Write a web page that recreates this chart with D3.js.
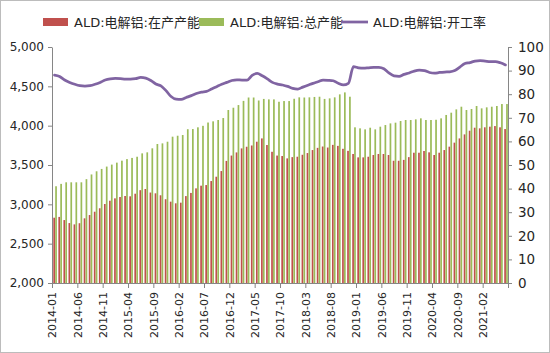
<!DOCTYPE html>
<html>
<head>
<meta charset="utf-8">
<script src="https://cdn.jsdelivr.net/npm/d3@7"></script>
<style>
  body { margin: 0; background: #fff; }
  svg text { font-family: "DejaVu Sans", "Noto Sans CJK SC", sans-serif; fill: #262626; }
</style>
</head>
<body>
<div class="chart"></div>
<script>
// month categories 2014-01 .. 2021-06
var fmtM = d3.utcFormat("%Y-%m");
var months = d3.utcMonth.range(new Date(Date.UTC(2014, 0, 1)), new Date(Date.UTC(2021, 6, 1))).map(fmtM);

// ALD:电解铝:在产产能 (left axis)
var production = [
  2830, 2840, 2800, 2762, 2745, 2760, 2822, 2864, 2906, 2950, 3004, 3046, 3076, 3093, 3106, 3102, 3135, 3180,
  3195, 3150, 3140, 3115, 3065, 3034, 3013, 3021, 3105, 3145, 3203, 3237, 3245, 3296, 3351, 3423, 3552, 3620,
  3660, 3711, 3732, 3748, 3796, 3838, 3754, 3668, 3620, 3614, 3584, 3600, 3605, 3630, 3652, 3690, 3718, 3735,
  3722, 3756, 3743, 3706, 3680, 3640, 3597, 3597, 3605, 3627, 3640, 3640, 3627, 3554, 3554, 3565, 3600,
  3656, 3656, 3678, 3661, 3627, 3656, 3690, 3733, 3784, 3838, 3889, 3936, 3974, 3966, 3979, 3987, 3995, 3979, 3957
];
// ALD:电解铝:总产能 (left axis)
var capacity = [
  3230, 3260, 3280, 3280, 3280, 3280, 3320, 3380, 3420, 3450, 3480, 3505, 3530, 3555, 3575, 3590, 3605, 3648,
  3661, 3712, 3767, 3775, 3796, 3860, 3872, 3881, 3955, 3957, 3979, 3998, 4040, 4055, 4072, 4097, 4199, 4228,
  4262, 4315, 4358, 4358, 4320, 4340, 4334, 4334, 4304, 4313, 4313, 4342, 4360, 4358, 4360, 4365, 4368, 4340,
  4347, 4360, 4398, 4423, 4368,
  3979, 3966, 3953, 3974, 3953, 3987, 4008, 4029, 4038, 4059, 4072, 4072,
  4080, 4093, 4072, 4072, 4075, 4093, 4136, 4165, 4207, 4241, 4199, 4212, 4250, 4220, 4233, 4241, 4250, 4275, 4275
];
// ALD:电解铝:开工率 (right axis, %)
var rate = [
  88.1, 87.5, 86.0, 85.0, 84.2, 83.6, 83.4, 83.6, 84.2, 85.0, 86.0, 86.5, 86.7, 86.6, 86.4, 86.4, 86.6, 87.1,
  86.8, 85.8, 84.3, 83.5, 81.5, 79.0, 77.9, 77.8, 78.6, 79.4, 80.3, 80.9, 81.2, 82.2, 83.2, 84.2, 85.0, 85.8,
  86.1, 86.0, 86.0, 88.0, 88.8, 87.8, 86.5, 85.0, 84.3, 83.9, 83.3, 82.5, 82.2, 83.0, 83.8, 84.6, 85.3, 86.0,
  85.9, 85.7, 84.6, 83.9, 84.6, 91.7, 91.2, 91.0, 91.2, 91.4, 91.4, 90.8, 89.0, 87.8, 87.6, 88.4, 89.0,
  89.8, 90.2, 90.0, 89.2, 88.9, 89.2, 89.4, 89.5, 90.0, 91.5, 93.0, 93.4, 94.0, 94.2, 94.0, 93.8, 93.8, 93.3, 92.4
];

var leftTicks = [2000, 2500, 3000, 3500, 4000, 4500, 5000];
var rightTicks = [0, 10, 20, 30, 40, 50, 60, 70, 80, 90, 100];
var legendNames = ["ALD:电解铝:在产产能", "ALD:电解铝:总产能", "ALD:电解铝:开工率"];

var W = 550, H = 353;
var margin = {left: 52, right: 42, top: 47, bottom: 70};
var x0 = margin.left, x1 = W - margin.right, y0 = H - margin.bottom, y1 = margin.top;

var red = "#c0504d", green = "#9bbb59", purple = "#8064a2", axisCol = "#868686";

var svg = d3.select("div.chart").append("svg")
  .attr("width", W).attr("height", H);

svg.append("rect")
  .attr("x", 0.5).attr("y", 0.5).attr("width", W - 1).attr("height", H - 1)
  .attr("fill", "#fff").attr("stroke", "#bcbcbc");

var x = d3.scaleBand().domain(months).range([x0, x1]);
var xs = d3.scaleBand().domain(["prod", "cap"]).range([1.3, 4.9]).paddingInner(0.1);
var xi = d3.scaleLinear().domain([0, months.length]).range([x0, x1]);

var yL = d3.scaleLinear().domain([2000, 5000]).range([y0, y1]);
var yR = d3.scaleLinear().domain([0, 100]).range([y0, y1]);

var bars = svg.append("g");
bars.selectAll("rect.prod")
  .data(production)
  .enter().append("rect")
    .attr("class", "prod")
    .attr("x", function(d, i) { return x(months[i]) + xs("prod"); })
    .attr("width", xs.bandwidth())
    .attr("y", function(d) { return yL(d); })
    .attr("height", function(d) { return y0 - yL(d); })
    .attr("fill", red);

bars.selectAll("rect.cap")
  .data(capacity)
  .enter().append("rect")
    .attr("class", "cap")
    .attr("x", function(d, i) { return x(months[i]) + xs("cap"); })
    .attr("width", xs.bandwidth())
    .attr("y", function(d) { return yL(d); })
    .attr("height", function(d) { return y0 - yL(d); })
    .attr("fill", green);

var line = d3.line()
  .x(function(d, i) { return x(months[i]) + x.bandwidth() / 2; })
  .y(function(d) { return yR(d); })
  .curve(d3.curveMonotoneX);

svg.append("path")
  .attr("d", line(rate))
  .attr("fill", "none")
  .attr("stroke", purple)
  .attr("stroke-width", 2.75)
  .attr("stroke-linejoin", "round")
  .attr("stroke-linecap", "round");

// axes
var gl = svg.append("g").attr("transform", "translate(" + x0 + ",0)")
  .call(d3.axisLeft(yL).tickValues(leftTicks).tickFormat(d3.format(",")).tickSize(4).tickSizeOuter(0).tickPadding(4));
gl.selectAll("text").style("font-size", "12px");

var gr = svg.append("g").attr("transform", "translate(" + x1 + ",0)")
  .call(d3.axisRight(yR).tickValues(rightTicks).tickSize(4).tickSizeOuter(0).tickPadding(6));
gr.selectAll("text").style("font-size", "13.5px");

var gb = svg.append("g").attr("transform", "translate(0," + y0 + ")")
  .call(d3.axisBottom(xi).tickValues(d3.range(0, months.length + 1, 5))
    .tickFormat(function(i) { return months[i] || ""; }).tickSize(5).tickSizeOuter(0));
gb.selectAll("text")
  .style("font-size", "11px")
  .attr("text-anchor", "end")
  .attr("transform", "rotate(-90)")
  .attr("x", -9).attr("y", 0).attr("dy", "0.35em");

svg.selectAll(".domain, .tick line").attr("stroke", axisCol);
svg.selectAll(".tick text").attr("fill", "#262626");

// legend
var leg = svg.append("g").style("font-size", "13px");
leg.append("rect").attr("x", 43).attr("y", 18).attr("width", 25).attr("height", 8).attr("fill", red);
leg.append("text").attr("x", 74).attr("y", 22).attr("dy", "0.35em").text(legendNames[0]);
leg.append("rect").attr("x", 199).attr("y", 18).attr("width", 25).attr("height", 8).attr("fill", green);
leg.append("text").attr("x", 230).attr("y", 22).attr("dy", "0.35em").text(legendNames[1]);
leg.append("line").attr("x1", 341).attr("x2", 368).attr("y1", 22).attr("y2", 22)
  .attr("stroke", purple).attr("stroke-width", 2.75);
leg.append("text").attr("x", 373).attr("y", 22).attr("dy", "0.35em").text(legendNames[2]);
</script>
</body>
</html>
